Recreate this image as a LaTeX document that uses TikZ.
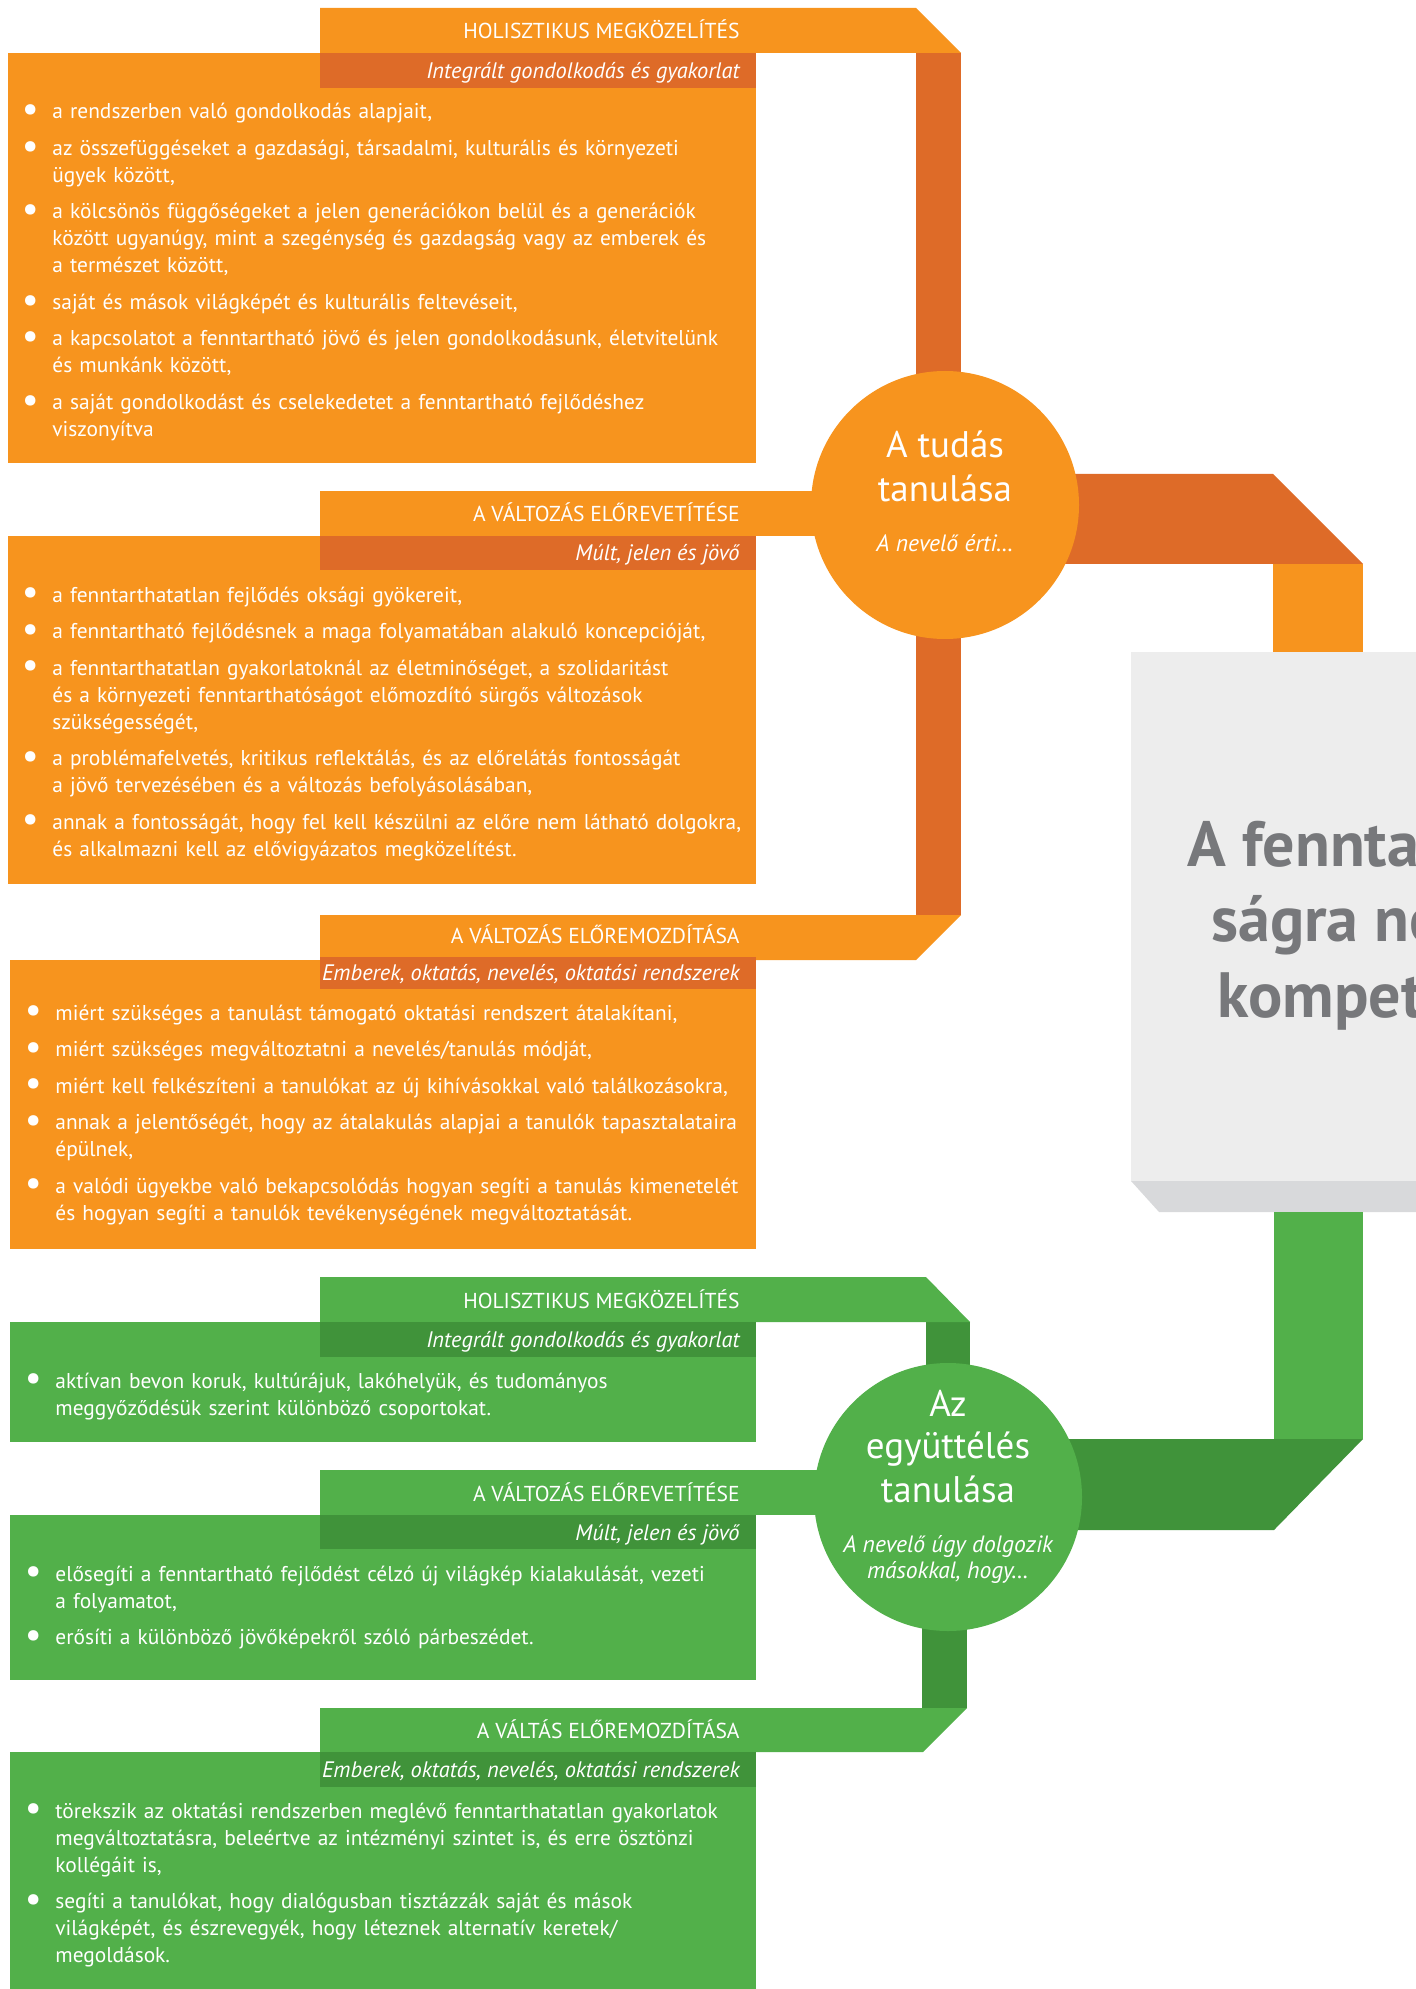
\documentclass[tikz,border=0pt]{standalone}
\usepackage{fontspec}
\setmainfont{PT Sans}
\usepackage{enumitem}
\usetikzlibrary{positioning}

\definecolor{narancs}{HTML}{F7941E}
\definecolor{sotetnarancs}{HTML}{DE6B28}
\definecolor{zold}{HTML}{52B04A}
\definecolor{sotetzold}{HTML}{40933A}
\definecolor{szurke}{HTML}{EDEDED}
\definecolor{arnyek}{HTML}{D8D9DB}
\definecolor{cimszurke}{HTML}{77787B}

\newlist{pontlista}{itemize}{1}
\setlist[pontlista]{label=\makebox[0pt]{\raisebox{-0.25ex}{\scalebox{1.75}{\textbullet}}}, leftmargin=11pt, labelwidth=0pt, labelsep=11pt, itemsep=4.75pt, parsep=0pt, topsep=0pt, partopsep=0pt}

\begin{document}
\begin{tikzpicture}[x=0.5pt, y=-0.5pt]
  \tikzstyle{fejlec} = [anchor=base east, text=white, inner sep=0pt, font=\fontsize{10.8}{13}\selectfont]
  \tikzstyle{alcim} = [anchor=base east, text=white, inner sep=0pt, font=\fontsize{11.2}{13}\selectfont\itshape]
  \tikzstyle{lista} = [anchor=base west, text=white, inner sep=0pt, text width=400pt, align=left, font=\fontsize{10.7}{13.5}\selectfont]
  \tikzstyle{kor} = [circle, minimum size=134pt, inner sep=0pt]
  \tikzstyle{kornagy} = [anchor=base, text=white, inner sep=0pt, font=\fontsize{18.5}{22}\selectfont]
  \tikzstyle{korkicsi} = [anchor=base, text=white, inner sep=0pt, font=\fontsize{11.8}{13}\selectfont\itshape]
  \tikzstyle{cim} = [anchor=base west, text=cimszurke, inner sep=0pt, font=\fontsize{32}{38}\selectfont\bfseries]
  \useasboundingbox (0,0) rectangle (1416,1989);
  \clip (0,0) rectangle (1416,1989);

  % kozepso szurke doboz
  \fill[szurke] (1131,652) rectangle (1500,1181);
  \fill[arnyek] (1131,1181) -- (1500,1181) -- (1500,1212) -- (1159,1212) -- cycle;
  \node[cim] (cim1) at (1187,866) {A fenntartható-};
  \node[cim] (cim2) at (1211,941) {ságra nevelés};
  \node[cim] (cim3) at (1217,1017) {kompetenciái};

  % narancs szalagok
  \fill[sotetnarancs] (916,53) rectangle (961,915);
  \fill[narancs] (320,8) -- (916,8) -- (961,53) -- (320,53) -- cycle;
  \fill[narancs] (320,491) rectangle (945,536);
  \fill[narancs] (320,915) -- (961,915) -- (916,960) -- (320,960) -- cycle;
  \fill[sotetnarancs] (945,474) -- (1273,474) -- (1363,564) -- (945,564) -- cycle;
  \fill[narancs] (1273,564) rectangle (1363,652);

  % zold szalagok
  \fill[zold] (1274,1212) rectangle (1363,1439);
  \fill[sotetzold] (948,1439) -- (1363,1439) -- (1274,1530) -- (948,1530) -- cycle;
  \fill[sotetzold] (926,1322) rectangle (970,1497);
  \fill[sotetzold] (922,1497) rectangle (967,1708);
  \fill[zold] (320,1277) -- (926,1277) -- (970,1322) -- (320,1322) -- cycle;
  \fill[zold] (320,1470) rectangle (948,1515);
  \fill[zold] (320,1708) -- (967,1708) -- (923,1752) -- (320,1752) -- cycle;

  % dobozok
  \fill[narancs] (8,53) rectangle (756,463);
  \fill[sotetnarancs] (320,53) rectangle (756,88);
  \fill[narancs] (8,536) rectangle (756,884);
  \fill[sotetnarancs] (320,536) rectangle (756,570);
  \fill[narancs] (10,960) rectangle (756,1249);
  \fill[sotetnarancs] (320,957) rectangle (756,989);
  \fill[zold] (10,1322) rectangle (756,1442);
  \fill[sotetzold] (320,1322) rectangle (756,1357);
  \fill[zold] (10,1515) rectangle (756,1680);
  \fill[sotetzold] (320,1515) rectangle (756,1549);
  \fill[zold] (10,1752) rectangle (756,2000);
  \fill[sotetzold] (320,1752) rectangle (756,1787);

  % korok
  \node[kor, fill=narancs] (tudas) at (945,505) {};
  \node[kornagy] (tudas1) at (945,458) {A tudás};
  \node[kornagy] (tudas2) at (945,502) {tanulása};
  \node[korkicsi] (tudas3) at (945,552) {A nevelő érti\ldots};
  \node[kor, fill=zold] (egyutt) at (948,1497) {};
  \node[kornagy] (egyutt1) at (948,1416) {Az};
  \node[kornagy] (egyutt2) at (948,1458) {együttélés};
  \node[kornagy] (egyutt3) at (948,1502) {tanulása};
  \node[korkicsi] (egyutt4) at (948,1552) {A nevelő úgy dolgozik};
  \node[korkicsi] (egyutt5) at (948,1578) {másokkal, hogy\ldots};

  % fejlecek
  \node[fejlec] (hol) at (740,39) {HOLISZTIKUS MEGKÖZELÍTÉS};
  \node[alcim] (holalcim) at (740,79) {Integrált gondolkodás és gyakorlat};
  \node[fejlec] (elore) at (740,522) {A VÁLTOZÁS ELŐREVETÍTÉSE};
  \node[alcim] (elorealcim) at (740,560) {Múlt, jelen és jövő};
  \node[fejlec] (mozd) at (740,943) {A VÁLTOZÁS ELŐREMOZDÍTÁSA};
  \node[alcim] (mozdalcim) at (740,980) {Emberek, oktatás, nevelés, oktatási rendszerek};
  \node[fejlec] (zhol) at (740,1308) {HOLISZTIKUS MEGKÖZELÍTÉS};
  \node[alcim] (zholalcim) at (740,1347) {Integrált gondolkodás és gyakorlat};
  \node[fejlec] (zelore) at (740,1501) {A VÁLTOZÁS ELŐREVETÍTÉSE};
  \node[alcim] (zelorealcim) at (740,1540) {Múlt, jelen és jövő};
  \node[fejlec] (zvalt) at (740,1738) {A VÁLTÁS ELŐREMOZDÍTÁSA};
  \node[alcim] (zvaltalcim) at (740,1777) {Emberek, oktatás, nevelés, oktatási rendszerek};

  % listak (a node alapvonala egy sorral az elso pont folott van)
  \node[lista] (hollista) at (30,92) {\begin{pontlista}
    \item a rendszerben való gondolkodás alapjait,
    \item az összefüggéseket a gazdasági, társadalmi, kulturális és környezeti\newline ügyek között,
    \item a kölcsönös függőségeket a jelen generációkon belül és a generációk\newline között ugyanúgy, mint a szegénység és gazdagság vagy az emberek és\newline a természet között,
    \item saját és mások világképét és kulturális feltevéseit,
    \item a kapcsolatot a fenntartható jövő és jelen gondolkodásunk, életvitelünk\newline és munkánk között,
    \item a saját gondolkodást és cselekedetet a fenntartható fejlődéshez\newline viszonyítva
  \end{pontlista}};
  \node[lista] (elorelista) at (30,575) {\begin{pontlista}
    \item a fenntarthatatlan fejlődés oksági gyökereit,
    \item a fenntartható fejlődésnek a maga folyamatában alakuló koncepcióját,
    \item a fenntarthatatlan gyakorlatoknál az életminőséget, a szolidaritást\newline és a környezeti fenntarthatóságot előmozdító sürgős változások\newline szükségességét,
    \item a problémafelvetés, kritikus reflektálás, és az előrelátás fontosságát\newline a jövő tervezésében és a változás befolyásolásában,
    \item annak a fontosságát, hogy fel kell készülni az előre nem látható dolgokra,\newline és alkalmazni kell az elővigyázatos megközelítést.
  \end{pontlista}};
  \node[lista] (mozdlista) at (33,993) {\begin{pontlista}
    \item miért szükséges a tanulást támogató oktatási rendszert átalakítani,
    \item miért szükséges megváltoztatni a nevelés/tanulás módját,
    \item miért kell felkészíteni a tanulókat az új kihívásokkal való találkozásokra,
    \item annak a jelentőségét, hogy az átalakulás alapjai a tanulók tapasztalataira\newline épülnek,
    \item a valódi ügyekbe való bekapcsolódás hogyan segíti a tanulás kimenetelét\newline és hogyan segíti a tanulók tevékenységének megváltoztatását.
  \end{pontlista}};
  \node[lista] (zhollista) at (33,1361) {\begin{pontlista}
    \item aktívan bevon koruk, kultúrájuk, lakóhelyük, és tudományos\newline meggyőződésük szerint különböző csoportokat.
  \end{pontlista}};
  \node[lista] (zelorelista) at (33,1554) {\begin{pontlista}
    \item elősegíti a fenntartható fejlődést célzó új világkép kialakulását, vezeti\newline a folyamatot,
    \item erősíti a különböző jövőképekről szóló párbeszédet.
  \end{pontlista}};
  \node[lista] (zvaltlista) at (33,1791) {\begin{pontlista}
    \item törekszik az oktatási rendszerben meglévő fenntarthatatlan gyakorlatok\newline megváltoztatásra, beleértve az intézményi szintet is, és erre ösztönzi\newline kollégáit is,
    \item segíti a tanulókat, hogy dialógusban tisztázzák saját és mások\newline világképét, és észrevegyék, hogy léteznek alternatív keretek/\newline megoldások.
  \end{pontlista}};
\end{tikzpicture}
\end{document}
